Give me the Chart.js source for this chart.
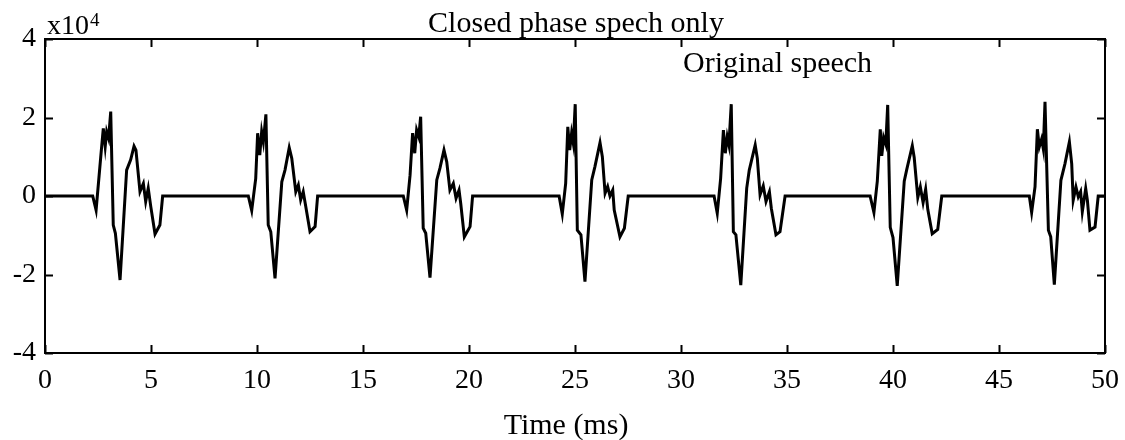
<!DOCTYPE html>
<html>
<head>
<meta charset="utf-8">
<script src="https://cdn.jsdelivr.net/npm/chart.js@4.4.1/dist/chart.umd.min.js"></script>
<style>
  html, body { margin: 0; padding: 0; background: #ffffff; }
  #wrap { width: 1125px; height: 440px; }
</style>
</head>
<body>
<div id="wrap"><canvas id="c" width="1125" height="440"></canvas></div>
<script>
// Axis ticks (time in ms, amplitude in units of 10^4)
const xTicks = [0, 5, 10, 15, 20, 25, 30, 35, 40, 45, 50];
const yTicks = [-4, -2, 0, 2, 4];

// Silent ends of the record
const edgeT = [0, 50];
const edgeV = [0, 0];

// Closed-phase speech pulses: time (ms) and amplitude (x10^4)
const pulse1T = [2.25, 2.41, 2.63, 2.75, 2.84, 2.91, 3.00, 3.10, 3.22, 3.32, 3.54, 3.85, 4.04, 4.20, 4.29, 4.48, 4.64, 4.75, 4.87, 4.99, 5.19, 5.42, 5.55];
const pulse1V = [0, -0.36, 1.00, 1.72, 1.26, 1.64, 1.47, 2.15, -0.74, -0.95, -2.14, 0.66, 0.92, 1.27, 1.17, 0.11, 0.32, -0.14, 0.20, -0.27, -0.97, -0.74, 0];

const pulse2T = [9.59, 9.75, 9.94, 10.03, 10.13, 10.22, 10.30, 10.42, 10.53, 10.65, 10.85, 11.17, 11.32, 11.52, 11.64, 11.83, 11.95, 12.06, 12.18, 12.30, 12.50, 12.74, 12.86];
const pulse2V = [0, -0.37, 0.45, 1.60, 1.04, 1.64, 1.38, 2.08, -0.74, -0.91, -2.10, 0.36, 0.66, 1.23, 0.96, 0.11, 0.28, -0.10, 0.11, -0.27, -0.91, -0.78, 0];

const pulse3T = [16.90, 17.06, 17.22, 17.34, 17.44, 17.53, 17.63, 17.72, 17.84, 17.96, 18.16, 18.48, 18.63, 18.82, 18.95, 19.10, 19.26, 19.39, 19.53, 19.61, 19.78, 20.05, 20.17];
const pulse3V = [0, -0.36, 0.53, 1.60, 1.09, 1.68, 1.51, 2.02, -0.82, -0.95, -2.08, 0.41, 0.71, 1.17, 0.87, 0.15, 0.32, -0.06, 0.15, -0.19, -1.04, -0.78, 0];

const pulse4T = [24.25, 24.40, 24.56, 24.66, 24.75, 24.84, 24.92, 25.01, 25.11, 25.28, 25.47, 25.79, 25.94, 26.18, 26.29, 26.42, 26.54, 26.65, 26.78, 26.85, 27.12, 27.33, 27.51];
const pulse4V = [0, -0.46, 0.32, 1.76, 1.17, 1.60, 1.34, 2.34, -0.87, -0.99, -2.18, 0.41, 0.75, 1.36, 1.00, 0.07, 0.24, 0, 0.15, -0.36, -1.04, -0.82, 0];

const pulse5T = [31.56, 31.71, 31.87, 32.00, 32.09, 32.18, 32.26, 32.37, 32.47, 32.59, 32.82, 33.10, 33.22, 33.50, 33.60, 33.73, 33.88, 34.01, 34.17, 34.26, 34.48, 34.67, 34.91];
const pulse5V = [0, -0.44, 0.45, 1.68, 1.09, 1.51, 1.30, 2.34, -0.91, -0.99, -2.27, 0.20, 0.66, 1.30, 0.96, 0.03, 0.26, -0.14, 0.11, -0.31, -0.99, -0.91, 0];

const pulse6T = [38.92, 39.10, 39.26, 39.40, 39.47, 39.56, 39.66, 39.75, 39.87, 40.00, 40.20, 40.53, 40.65, 40.91, 41.00, 41.17, 41.29, 41.42, 41.54, 41.64, 41.85, 42.11, 42.30];
const pulse6V = [0, -0.42, 0.38, 1.70, 1.02, 1.49, 1.32, 2.32, -0.80, -1.06, -2.29, 0.38, 0.68, 1.28, 0.98, -0.04, 0.23, -0.17, 0.17, -0.34, -0.96, -0.85, 0];

const pulse7T = [46.43, 46.54, 46.70, 46.81, 46.90, 47.01, 47.09, 47.17, 47.33, 47.44, 47.61, 47.92, 48.11, 48.32, 48.43, 48.50, 48.63, 48.74, 48.85, 48.93, 49.09, 49.17, 49.29, 49.53, 49.68];
const pulse7V = [0, -0.42, 0.24, 1.70, 1.25, 1.45, 1.20, 2.40, -0.87, -1.04, -2.26, 0.40, 0.82, 1.38, 0.82, -0.11, 0.23, -0.02, 0.11, -0.40, 0.19, -0.11, -0.87, -0.79, 0];

const pulses = [
  [pulse1T, pulse1V], [pulse2T, pulse2V], [pulse3T, pulse3V], [pulse4T, pulse4V],
  [pulse5T, pulse5V], [pulse6T, pulse6V], [pulse7T, pulse7V]
];

// Assemble one continuous trace, ordered in time
const trace = [{ x: edgeT[0], y: edgeV[0] }];
pulses.forEach(([t, v]) => t.forEach((ti, i) => trace.push({ x: ti, y: v[i] })));
trace.push({ x: edgeT[1], y: edgeV[1] });

const SERIF = "'Liberation Serif', 'Times New Roman', serif";

// Boxed frame with inward tick marks on all four sides, plus the text labels
const framePlugin = {
  id: 'frame',
  afterDraw(chart) {
    const { ctx, chartArea: a, scales: { x, y } } = chart;
    const tl = 8;
    ctx.save();
    ctx.strokeStyle = '#000';
    ctx.lineWidth = 2;
    ctx.strokeRect(a.left, a.top, a.right - a.left, a.bottom - a.top);
    ctx.beginPath();
    xTicks.forEach(v => {
      const px = Math.round(x.getPixelForValue(v)) + 0.5;
      ctx.moveTo(px, a.bottom); ctx.lineTo(px, a.bottom - tl);
      ctx.moveTo(px, a.top); ctx.lineTo(px, a.top + tl);
    });
    yTicks.forEach(v => {
      const py = Math.round(y.getPixelForValue(v)) + 0.5;
      ctx.moveTo(a.left, py); ctx.lineTo(a.left + tl, py);
      ctx.moveTo(a.right, py); ctx.lineTo(a.right - tl, py);
    });
    ctx.stroke();

    ctx.fillStyle = '#000';
    ctx.textBaseline = 'alphabetic';
    ctx.font = '30px ' + SERIF;
    ctx.textAlign = 'center';
    ctx.fillText('Closed phase spech only', (a.left + a.right) / 2 + 1, 32);
    ctx.fillText('Time (ms)', (a.left + a.right) / 2 - 9, 434);
    ctx.textAlign = 'left';
    ctx.fillText('Original speech', a.left + 638, 72);
    ctx.font = '28px ' + SERIF;
    ctx.fillText('x10', a.left + 2, 34);
    const w = ctx.measureText('x10').width;
    ctx.font = '19px ' + SERIF;
    ctx.fillText('4', a.left + 3 + w, 26);
    ctx.restore();
  }
};

new Chart(document.getElementById('c'), {
  type: 'line',
  data: {
    datasets: [{
      data: trace,
      borderColor: '#000',
      borderWidth: 3,
      pointRadius: 0,
      tension: 0,
      fill: false
    }]
  },
  options: {
    responsive: false,
    animation: false,
    devicePixelRatio: 1,
    layout: { padding: { top: 39, right: 20, left: 0, bottom: 0 } },
    plugins: { legend: { display: false }, tooltip: { enabled: false }, title: { display: false } },
    scales: {
      x: {
        type: 'linear',
        min: 0, max: 50,
        afterBuildTicks: s => { s.ticks = xTicks.map(v => ({ value: v })); },
        afterFit: s => { s.height = 87; s.paddingLeft = 0; s.paddingRight = 0; },
        grid: { display: false, drawTicks: false },
        border: { display: false },
        ticks: {
          autoSkip: false, maxRotation: 0, padding: 11, color: '#000',
          font: { family: SERIF, size: 28 }
        }
      },
      y: {
        type: 'linear',
        min: -4, max: 4,
        afterBuildTicks: s => { s.ticks = yTicks.map(v => ({ value: v })); },
        afterFit: s => { s.width = 45; s.paddingTop = 0; s.paddingBottom = 0; },
        grid: { display: false, drawTicks: false },
        border: { display: false },
        ticks: {
          padding: 9, color: '#000',
          font: { family: SERIF, size: 28 }
        }
      }
    }
  },
  plugins: [framePlugin]
});
</script>
</body>
</html>
